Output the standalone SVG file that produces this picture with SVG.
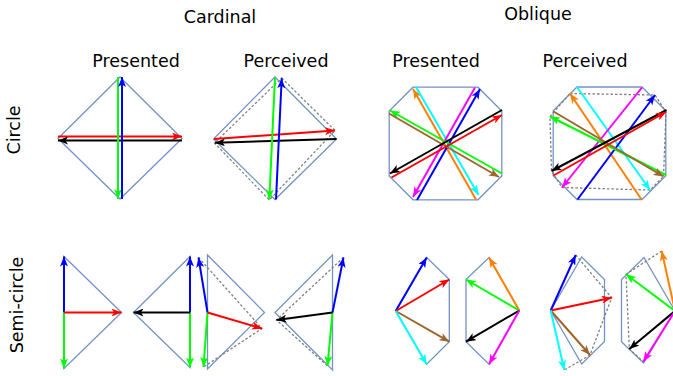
<svg xmlns="http://www.w3.org/2000/svg" width="673" height="376" viewBox="0 0 673 376">
<style>
text{font-family:"DejaVu Sans",Verdana,sans-serif;font-size:17.5px;fill:#000;text-anchor:middle}
.sh{fill:none;stroke:#7393c3;stroke-width:1.3;stroke-linejoin:miter}
.ds{fill:none;stroke:#7f7f7f;stroke-width:1.3;stroke-dasharray:2.5 2}
.a{fill:none;stroke-width:2}
.r{stroke:#ff0000;marker-end:url(#mr)}
.k{stroke:#000000;marker-end:url(#mk)}
.g{stroke:#00ff00;marker-end:url(#mg)}
.b{stroke:#0000ff;marker-end:url(#mb)}
.o{stroke:#ff8000;marker-end:url(#mo)}
.c{stroke:#00ffff;marker-end:url(#mc)}
.m{stroke:#ff00ff;marker-end:url(#mm)}
.n{stroke:#a0642d;marker-end:url(#mn)}
</style>
<defs>
<marker id="mr" viewBox="0 0 10 8" refX="10" refY="4" markerWidth="10" markerHeight="8" markerUnits="userSpaceOnUse" orient="auto"><path d="M0,0 L10,4 L0,8 L2.5,4 Z" fill="#ff0000"/></marker>
<marker id="mk" viewBox="0 0 10 8" refX="10" refY="4" markerWidth="10" markerHeight="8" markerUnits="userSpaceOnUse" orient="auto"><path d="M0,0 L10,4 L0,8 L2.5,4 Z" fill="#000000"/></marker>
<marker id="mg" viewBox="0 0 10 8" refX="10" refY="4" markerWidth="10" markerHeight="8" markerUnits="userSpaceOnUse" orient="auto"><path d="M0,0 L10,4 L0,8 L2.5,4 Z" fill="#00ff00"/></marker>
<marker id="mb" viewBox="0 0 10 8" refX="10" refY="4" markerWidth="10" markerHeight="8" markerUnits="userSpaceOnUse" orient="auto"><path d="M0,0 L10,4 L0,8 L2.5,4 Z" fill="#0000ff"/></marker>
<marker id="mo" viewBox="0 0 10 8" refX="10" refY="4" markerWidth="10" markerHeight="8" markerUnits="userSpaceOnUse" orient="auto"><path d="M0,0 L10,4 L0,8 L2.5,4 Z" fill="#ff8000"/></marker>
<marker id="mc" viewBox="0 0 10 8" refX="10" refY="4" markerWidth="10" markerHeight="8" markerUnits="userSpaceOnUse" orient="auto"><path d="M0,0 L10,4 L0,8 L2.5,4 Z" fill="#00ffff"/></marker>
<marker id="mm" viewBox="0 0 10 8" refX="10" refY="4" markerWidth="10" markerHeight="8" markerUnits="userSpaceOnUse" orient="auto"><path d="M0,0 L10,4 L0,8 L2.5,4 Z" fill="#ff00ff"/></marker>
<marker id="mn" viewBox="0 0 10 8" refX="10" refY="4" markerWidth="10" markerHeight="8" markerUnits="userSpaceOnUse" orient="auto"><path d="M0,0 L10,4 L0,8 L2.5,4 Z" fill="#a0642d"/></marker>
</defs>
<rect width="673" height="376" fill="#ffffff"/>

<g id="labels">
<text x="220" y="23">Cardinal</text>
<text x="538" y="20">Oblique</text>
<text x="136" y="67">Presented</text>
<text x="286" y="67">Perceived</text>
<text x="436" y="67">Presented</text>
<text x="585" y="67">Perceived</text>
<text transform="translate(20,130) rotate(-90)">Circle</text>
<text transform="translate(23,305) rotate(-90)">Semi-circle</text>
</g>

<g id="cardinal-circle-presented">
<polygon class="sh" points="120,77 182,138.5 120,199 58,138.5"/>
<g class="a">
<line class="r" x1="58" y1="136.5" x2="182" y2="136.5"/>
<line class="k" x1="182" y1="140.5" x2="58" y2="140.5"/>
<line class="g" x1="118" y1="77" x2="118" y2="199"/>
<line class="b" x1="122" y1="199" x2="122" y2="77"/>
</g>
</g>

<g id="cardinal-circle-perceived">
<polygon class="sh" points="275,77 336.5,139 275,199.5 213.5,139"/>
<polygon class="ds" points="281.7,78 335,130.5 269.3,200 214.5,143"/>
<g class="a">
<line class="r" x1="214" y1="139" x2="335" y2="130.5"/>
<line class="k" x1="336.5" y1="139" x2="215" y2="142.7"/>
<line class="g" x1="275" y1="77.5" x2="269.3" y2="199.5"/>
<line class="b" x1="276" y1="199.5" x2="281.7" y2="78.3"/>
</g>
</g>

<g id="oblique-circle-presented">
<polygon class="sh" points="413,87.2 478,87.2 501.8,111 501.8,176 478,199.8 413,199.8 389.2,176 389.2,111"/>
<g class="a">
<line class="o" x1="476" y1="199.5" x2="413" y2="89"/>
<line class="c" x1="416" y1="87" x2="478.5" y2="195"/>
<line class="m" x1="475" y1="87.5" x2="413" y2="197"/>
<line class="b" x1="417" y1="200" x2="480" y2="89"/>
<line class="g" x1="502" y1="173.5" x2="390" y2="110.5"/>
<line class="n" x1="389" y1="113.5" x2="499" y2="177"/>
<line class="k" x1="502" y1="110" x2="390" y2="173.5"/>
<line class="r" x1="391.5" y1="177.5" x2="502" y2="115"/>
</g>
</g>

<g id="oblique-circle-perceived">
<polygon class="sh" points="577,87 642,87 665.8,110.8 665.8,175.8 642,199.5 577,199.5 553.2,175.8 553.2,110.8"/>
<polygon class="ds" points="570,93.5 655,95 666,112 663.5,176.5 650,190 562,187.5 551.5,171 550,116.5"/>
<g class="a">
<line class="o" x1="641.5" y1="199.5" x2="570" y2="93.5"/>
<line class="c" x1="577" y1="87" x2="650" y2="190"/>
<line class="m" x1="642" y1="87.5" x2="562" y2="187.5"/>
<line class="b" x1="577.5" y1="199.5" x2="655" y2="95"/>
<line class="g" x1="666" y1="175" x2="550" y2="116.5"/>
<line class="n" x1="553.5" y1="111.5" x2="663.5" y2="176.5"/>
<line class="k" x1="666.5" y1="110" x2="551.5" y2="171"/>
<line class="r" x1="553.5" y1="175.5" x2="666" y2="112"/>
</g>
</g>

<g id="cardinal-semicircle-presented">
<polygon class="sh" points="64,256.5 121.5,312.5 64,368.5"/>
<polygon class="sh" points="190,256.5 133.5,312.5 190,367.5"/>
<g class="a">
<line class="b" x1="64" y1="312.5" x2="64" y2="256.5"/>
<line class="g" x1="64" y1="312.5" x2="64" y2="368.5"/>
<line class="r" x1="64" y1="312.5" x2="121.5" y2="312.5"/>
<line class="b" x1="190" y1="312.5" x2="190" y2="256.5"/>
<line class="g" x1="190" y1="312.5" x2="190" y2="367.5"/>
<line class="k" x1="190" y1="312.5" x2="133.5" y2="312.5"/>
</g>
</g>

<g id="cardinal-semicircle-perceived">
<polygon class="sh" points="207.5,255 264.5,312.5 207.5,369"/>
<polyline class="ds" points="198.5,257.5 262,328.5 203.5,367"/>
<polygon class="sh" points="332.5,255 275,312.5 332.5,370"/>
<polyline class="ds" points="343.5,257.5 276.5,320 327.5,366"/>
<g class="a">
<line class="b" x1="207.5" y1="312.5" x2="198.5" y2="257.5"/>
<line class="g" x1="207.5" y1="312.5" x2="203.5" y2="367"/>
<line class="r" x1="207.5" y1="312.5" x2="262" y2="328.5"/>
<line class="b" x1="332.5" y1="312.5" x2="343.5" y2="257.5"/>
<line class="g" x1="332.5" y1="312.5" x2="327.5" y2="366"/>
<line class="k" x1="332.5" y1="312.5" x2="276.5" y2="320"/>
</g>
</g>

<g id="oblique-semicircle-presented">
<polygon class="sh" points="395.7,311 426.7,257.5 449.3,279.5 449.3,341.7 426.7,364.3"/>
<polygon class="sh" points="519.3,310.5 489,257.5 466,279.5 466,341.7 489,364.3"/>
<g class="a">
<line class="b" x1="395.7" y1="311" x2="426.7" y2="257.5"/>
<line class="r" x1="395.7" y1="311" x2="449.3" y2="279.5"/>
<line class="n" x1="395.7" y1="311" x2="449.3" y2="341.7"/>
<line class="c" x1="395.7" y1="311" x2="426.7" y2="364.3"/>
<line class="o" x1="519.3" y1="310.5" x2="489" y2="257.5"/>
<line class="g" x1="519.3" y1="310.5" x2="466" y2="279.5"/>
<line class="k" x1="519.3" y1="310.5" x2="466" y2="341.7"/>
<line class="m" x1="519.3" y1="310.5" x2="489" y2="364.3"/>
</g>
</g>

<g id="oblique-semicircle-perceived">
<polygon class="sh" points="550.7,310.5 581.7,257 604.5,279.5 604.5,341.5 581.7,364"/>
<polyline class="ds" points="575.7,255 611.7,297.7 590,355 564.3,370"/>
<polygon class="sh" points="675,311 644,257.5 621.5,279.5 621.5,341.7 643.5,363"/>
<polyline class="ds" points="661.7,251 626,274.3 629.3,349 643.3,361.7"/>
<g class="a">
<line class="b" x1="550.7" y1="310.5" x2="575.7" y2="255"/>
<line class="r" x1="550.7" y1="310.5" x2="611.7" y2="297.7"/>
<line class="n" x1="550.7" y1="310.5" x2="590" y2="355"/>
<line class="c" x1="550.7" y1="310.5" x2="564.3" y2="370"/>
<line class="o" x1="675" y1="311" x2="661.7" y2="251"/>
<line class="g" x1="675" y1="311" x2="626" y2="274.3"/>
<line class="k" x1="675" y1="311" x2="629.3" y2="349"/>
<line class="m" x1="675" y1="311" x2="643.3" y2="361.7"/>
</g>
</g>
</svg>
